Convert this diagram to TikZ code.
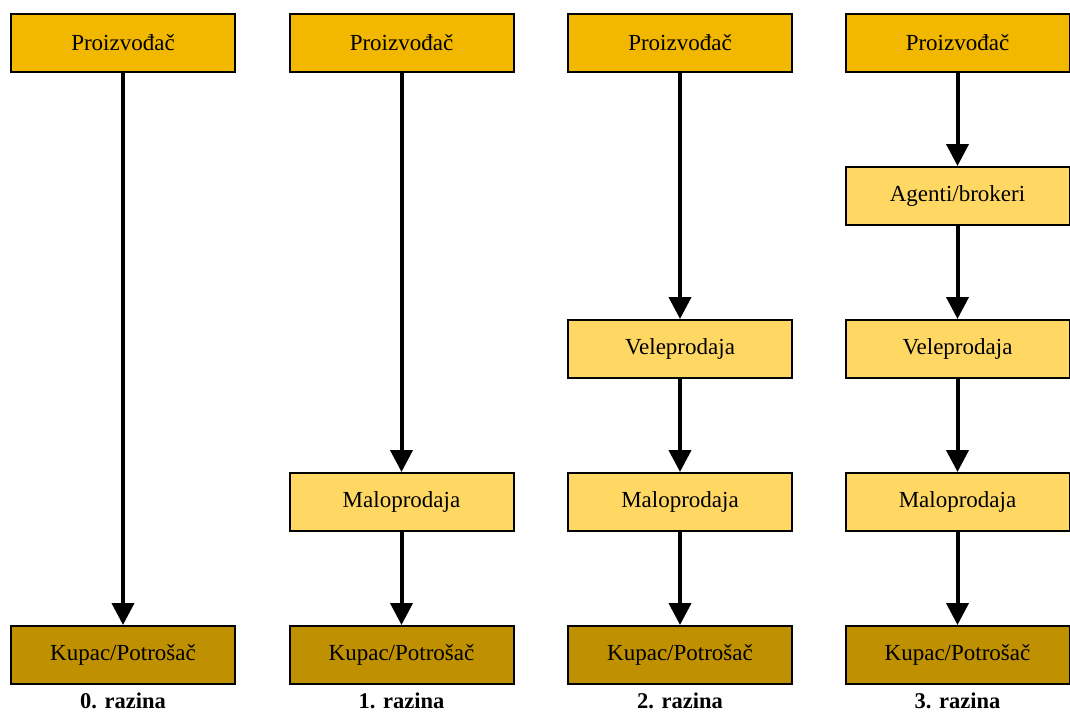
\documentclass[tikz,border=0pt]{standalone}
\usepackage{fontspec}
\setmainfont{Liberation Serif}
\usetikzlibrary{arrows.meta}
\definecolor{cTop}{RGB}{242,184,0}
\definecolor{cMid}{RGB}{255,216,100}
\definecolor{cBot}{RGB}{191,144,0}
\begin{document}
\begin{tikzpicture}[x=1pt,y=-1pt,
  box/.style={draw=black,line width=2pt,minimum width=224pt,minimum height=58pt,inner sep=0pt,font=\fontsize{23}{27}\selectfont},
  top/.style={box,fill=cTop},
  mid/.style={box,fill=cMid},
  bot/.style={box,fill=cBot},
  lvl/.style={font=\fontsize{22.5}{27}\selectfont\bfseries,inner sep=0pt},
  arr/.style={line width=4pt,-{Triangle[width=22pt,length=22pt]},shorten <=-1pt}]
\useasboundingbox (0,0) rectangle (1070,713);
% column 0
\node[top] (p0) at (123,42.5) {Proizvođač};
\node[bot] (k0) at (123,655) {Kupac/Potrošač};
\node[lvl] (l0) at (123,701) {0. razina};
\draw[arr] (p0) -- (k0);
% column 1
\node[top] (p1) at (401.5,42.5) {Proizvođač};
\node[mid] (m1) at (401.5,502) {Maloprodaja};
\node[bot] (k1) at (401.5,655) {Kupac/Potrošač};
\node[lvl] (l1) at (401.5,701) {1. razina};
\draw[arr] (p1) -- (m1);
\draw[arr] (m1) -- (k1);
% column 2
\node[top] (p2) at (680,42.5) {Proizvođač};
\node[mid] (v2) at (680,349) {Veleprodaja};
\node[mid] (m2) at (680,502) {Maloprodaja};
\node[bot] (k2) at (680,655) {Kupac/Potrošač};
\node[lvl] (l2) at (680,701) {2. razina};
\draw[arr] (p2) -- (v2);
\draw[arr] (v2) -- (m2);
\draw[arr] (m2) -- (k2);
% column 3
\node[top] (p3) at (957.5,42.5) {Proizvođač};
\node[mid] (a3) at (957.5,196) {Agenti/brokeri};
\node[mid] (v3) at (957.5,349) {Veleprodaja};
\node[mid] (m3) at (957.5,502) {Maloprodaja};
\node[bot] (k3) at (957.5,655) {Kupac/Potrošač};
\node[lvl] (l3) at (957.5,701) {3. razina};
\draw[arr] (p3) -- (a3);
\draw[arr] (a3) -- (v3);
\draw[arr] (v3) -- (m3);
\draw[arr] (m3) -- (k3);
\end{tikzpicture}
\end{document}
